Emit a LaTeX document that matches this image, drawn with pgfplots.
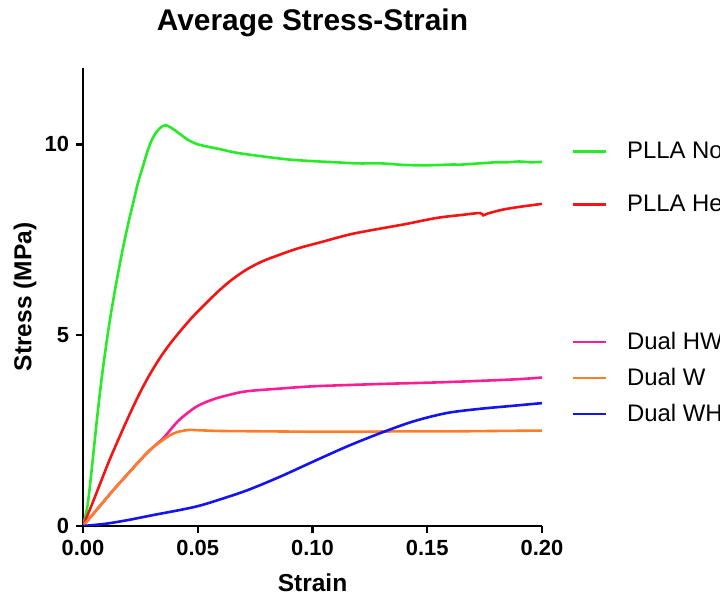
\documentclass[border=0pt]{standalone}
\usepackage{pgfplots}
\pgfplotsset{compat=1.18}
\usepackage{fontspec}
\setmainfont{Liberation Sans}
\definecolor{cgreen}{RGB}{40,235,40}
\definecolor{cred}{RGB}{245,20,20}
\definecolor{cpink}{RGB}{250,30,150}
\definecolor{corange}{RGB}{255,125,40}
\definecolor{cblue}{RGB}{20,20,240}
\pgfplotsset{
  common/.style={
    at={(41.5bp,36bp)}, anchor=south west,
    width=229.5bp, height=229bp, scale only axis,
    xmin=0, xmax=0.2, ymin=0, ymax=12,
    legend cell align=left,
    legend image code/.code={\draw[##1, line width=1.3bp] (0bp,-0.8bp) -- (16.75bp,-0.8bp);},
  },
  legst/.style={
    draw=none, fill=none, inner sep=0pt, outer sep=0pt,
    column sep=9.75bp, font=\fontsize{12}{14}\selectfont,
    nodes={inner sep=0pt, text height=8.6bp, text depth=0pt},
  },
  every axis plot/.append style={line width=1.3bp, no markers, smooth, tension=0.5},
}
\begin{document}
\begin{tikzpicture}
\useasboundingbox (0,0) rectangle (360bp,299bp);
\clip (0,0) rectangle (360bp,299bp);
\begin{axis}[common,
  axis lines*=left,
  axis line style={line width=1.2bp, black},
  xtick={0,0.05,0.1,0.15,0.2},
  ytick={0,5,10},
  tick align=outside, major tick length=3.5bp,
  tick style={line width=1.2bp, black},
  /pgf/number format/assume math mode=true,
  xticklabel style={/pgf/number format/.cd, fixed, fixed zerofill, precision=2},
  tick label style={font=\fontsize{11}{13}\selectfont\bfseries},
  xlabel={Strain}, ylabel={Stress (MPa)},
  label style={font=\fontsize{12.3}{14}\selectfont\bfseries},
  xlabel style={at={(axis description cs:0.5,-0.1245)}, anchor=center},
  ylabel style={at={(axis description cs:-0.1264,0.5)}, anchor=center},
  title={Average Stress-Strain},
  title style={font=\fontsize{15}{18}\selectfont\bfseries, at={(axis description cs:0.5,1)}, anchor=center, yshift=16.5bp},
  legend style={legst, at={(axis description cs:1.0643,0.8402)}, anchor=north west, row sep=17.9bp},
]
\addplot[cgreen] coordinates {
(0,0) (0.002,0.55) (0.004,1.6) (0.006,2.75) (0.008,3.8) (0.010,4.7) (0.012,5.5)
(0.014,6.2) (0.016,6.85) (0.018,7.45) (0.020,8.0) (0.022,8.5) (0.024,9.0) (0.026,9.4)
(0.028,9.8) (0.030,10.12) (0.032,10.32) (0.034,10.45) (0.036,10.5) (0.038,10.45)
(0.040,10.37) (0.042,10.28) (0.044,10.19) (0.046,10.11) (0.048,10.05) (0.050,10.0)
(0.055,9.93) (0.060,9.87) (0.065,9.8) (0.070,9.75) (0.080,9.67) (0.090,9.6)
(0.100,9.56) (0.110,9.53) (0.120,9.5) (0.130,9.5) (0.140,9.46) (0.150,9.45)
(0.160,9.47) (0.165,9.47) (0.170,9.49) (0.175,9.51) (0.180,9.53) (0.185,9.53)
(0.190,9.55) (0.195,9.53) (0.200,9.54)
};
\addlegendentry{PLLA Non-heated}
\addplot[cred] coordinates {
(0,0) (0.004,0.58) (0.0074,1.1) (0.0115,1.72) (0.0161,2.36) (0.0205,2.95)
(0.0248,3.49) (0.029,3.96) (0.0336,4.41) (0.038,4.78) (0.0423,5.1) (0.047,5.43)
(0.051,5.68) (0.0555,5.95) (0.0597,6.19) (0.065,6.46) (0.0713,6.72) (0.078,6.93)
(0.0858,7.11) (0.094,7.28) (0.1033,7.43) (0.1178,7.66) (0.1396,7.9) (0.154,8.07)
(0.165,8.15) (0.173,8.2) (0.1744,8.14) (0.1765,8.19) (0.183,8.29) (0.19,8.36)
(0.2,8.44)
};
\addlegendentry{PLLA Heated}
\end{axis}
\begin{axis}[common, hide axis,
  legend style={legst, at={(axis description cs:1.0643,0.4240)}, anchor=north west, row sep=9.4bp},
]
\addplot[cpink] coordinates {
(0,0) (0.0066,0.47) (0.0132,0.94) (0.0205,1.43) (0.0278,1.91) (0.032,2.14)
(0.035,2.3) (0.0385,2.55) (0.0423,2.8) (0.0495,3.13) (0.0568,3.32) (0.064,3.44)
(0.0713,3.53) (0.0858,3.6) (0.1004,3.66) (0.129,3.72) (0.1585,3.77) (0.1875,3.84)
(0.2,3.89)
};
\addlegendentry{Dual HW}
\addplot[corange] coordinates {
(0,0) (0.0066,0.47) (0.0132,0.94) (0.0205,1.43) (0.0278,1.91) (0.032,2.13)
(0.035,2.26) (0.038,2.38) (0.041,2.46) (0.044,2.5) (0.047,2.52) (0.05,2.51)
(0.06,2.49) (0.08,2.48) (0.1,2.47) (0.12,2.47) (0.14,2.48) (0.16,2.48)
(0.18,2.49) (0.2,2.5)
};
\addlegendentry{Dual W}
\addplot[cblue] coordinates {
(0,0) (0.01,0.06) (0.02,0.16) (0.03,0.28) (0.0423,0.42) (0.05,0.52) (0.0568,0.64)
(0.0713,0.93) (0.0858,1.29) (0.1004,1.69) (0.1149,2.08) (0.1294,2.43) (0.1439,2.74)
(0.1585,2.96) (0.173,3.07) (0.1875,3.15) (0.2,3.22)
};
\addlegendentry{Dual WH}
\end{axis}
\end{tikzpicture}
\end{document}
